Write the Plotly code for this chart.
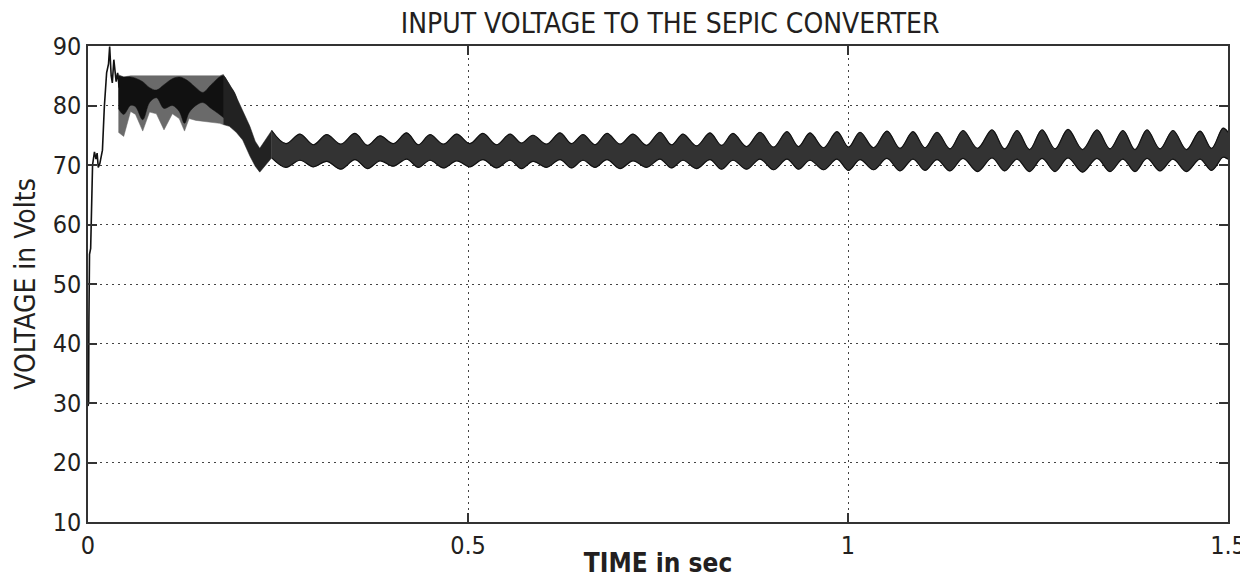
import plotly.graph_objects as go

# ---------------- data ----------------
# initial start-up trace (single line before the switching band forms)
t_start = [0.0, 0.0008, 0.0012, 0.002, 0.0035, 0.0045, 0.006, 0.0085, 0.0105, 0.012,
           0.0135, 0.0155, 0.017, 0.019, 0.0215, 0.0245, 0.027, 0.0285, 0.0305, 0.032,
           0.034, 0.0355, 0.037, 0.039, 0.041]
v_start = [29.5, 30.0, 44.0, 55.0, 56.0, 64.0, 70.0, 72.2, 71.0, 72.0,
           69.6, 70.2, 71.2, 72.5, 79.8, 85.5, 87.0, 89.9, 85.0, 83.8,
           87.7, 86.0, 84.0, 85.5, 83.0]

# transient switching band (0.04 s .. 0.24 s)
t_tr = [0.040, 0.047, 0.056, 0.0625, 0.072, 0.081, 0.090, 0.100, 0.111, 0.120,
        0.127, 0.133, 0.142, 0.151, 0.162, 0.173, 0.178, 0.186, 0.195, 0.2035,
        0.213, 0.220, 0.226, 0.2417]
up_tr = [85.2, 84.8, 85.0, 85.0, 85.0, 85.0, 85.0, 85.0, 85.0, 85.0,
         85.0, 85.0, 85.0, 85.0, 85.0, 85.0, 85.2, 83.6, 81.5, 79.2,
         76.5, 74.0, 72.8, 75.8]
lo_tr = [75.5, 74.8, 79.0, 78.5, 75.7, 78.9, 78.6, 75.9, 78.6, 77.8,
         75.7, 77.8, 77.5, 77.3, 77.2, 77.0, 76.8, 76.5, 75.5, 74.2,
         71.5, 69.8, 68.8, 71.2]
# dense (dark) core of the transient band
t_core = [0.040, 0.047, 0.056, 0.0625, 0.072, 0.081, 0.090, 0.100, 0.111, 0.120,
          0.127, 0.133, 0.142, 0.151, 0.162, 0.173, 0.178, 0.186, 0.195]
up_core = [85.0, 84.8, 84.8, 84.6, 84.0, 83.0, 82.6, 83.5, 84.5, 84.8,
           84.5, 84.0, 83.0, 82.2, 83.5, 84.8, 85.0, 83.5, 81.5]
lo_core = [79.5, 78.5, 80.0, 79.8, 77.6, 80.5, 81.3, 79.5, 80.0, 79.0,
           77.0, 78.8, 80.0, 80.5, 79.5, 78.5, 78.0, 77.0, 76.0]

# steady-state ripple band: envelope at ripple peaks / troughs
t_env = [0.2417, 0.2603, 0.2789, 0.2965, 0.3141, 0.3327, 0.3513, 0.3678, 0.3842, 0.4018,
         0.4193, 0.4347, 0.4500, 0.4676, 0.4851, 0.5024, 0.5197, 0.5375, 0.5553, 0.5704,
         0.5855, 0.6033, 0.6211, 0.6362, 0.6513, 0.6671, 0.6829, 0.7000, 0.7171, 0.7349,
         0.7526, 0.7678, 0.7829, 0.8007, 0.8184, 0.8336, 0.8487, 0.8665, 0.8842, 0.9020,
         0.9197, 0.9349, 0.9500, 0.9678, 0.9855, 1.0007, 1.0158, 1.0336, 1.0513, 1.0684,
         1.0855, 1.1013, 1.1171, 1.1342, 1.1513, 1.1704, 1.1895, 1.2060, 1.2224, 1.2389,
         1.2553, 1.2724, 1.2895, 1.3086, 1.3276, 1.3447, 1.3618, 1.3776, 1.3934, 1.4105,
         1.4276, 1.4454, 1.4632, 1.4783, 1.4934, 1.5]
up_env = [75.8, 73.6, 75.2, 73.4, 75.1, 73.5, 75.3, 73.3, 74.9, 73.6,
          75.4, 73.4, 75.1, 73.5, 75.2, 73.6, 75.3, 73.4, 75.2, 73.7,
          75.0, 73.5, 75.4, 73.6, 75.1, 73.4, 75.3, 73.5, 75.2, 73.3,
          75.5, 73.4, 75.2, 73.2, 75.4, 73.3, 75.3, 73.1, 75.5, 73.0,
          75.6, 73.1, 75.4, 72.9, 75.6, 73.0, 75.5, 72.9, 75.7, 72.8,
          75.6, 72.9, 75.5, 72.7, 75.8, 72.8, 75.9, 72.7, 75.8, 72.6,
          75.9, 72.7, 76.0, 72.6, 75.9, 72.7, 75.8, 72.6, 75.9, 72.7,
          75.8, 72.6, 75.7, 72.8, 76.2, 75.5]
lo_env = [71.2, 69.6, 70.8, 69.7, 70.6, 69.3, 70.9, 69.4, 70.7, 69.8,
          71.0, 69.6, 70.8, 69.5, 70.7, 69.7, 70.9, 69.5, 70.8, 69.4,
          70.6, 69.6, 70.9, 69.5, 70.8, 69.6, 70.9, 69.4, 70.7, 69.6,
          71.0, 69.5, 70.8, 69.4, 70.9, 69.3, 70.8, 69.3, 71.0, 69.2,
          71.0, 69.3, 70.8, 69.2, 71.0, 69.1, 70.9, 69.2, 71.1, 69.0,
          71.0, 69.1, 70.9, 69.0, 71.1, 68.9, 71.2, 69.0, 71.0, 68.9,
          71.1, 68.9, 71.2, 68.8, 71.1, 68.9, 71.0, 68.9, 71.1, 69.0,
          71.0, 68.9, 71.0, 69.1, 71.3, 71.0]

x_ticks = [0, 0.5, 1, 1.5]
x_ticktext = ["0", "0.5", "1", "1.5"]
y_ticks = [10, 20, 30, 40, 50, 60, 70, 80, 90]

TXT = "#231f20"
FONT = "DejaVu Sans Condensed, Liberation Sans, Arial, sans-serif"


def band(t, up, lo, color, shape="linear"):
    return go.Scatter(x=list(t) + list(t)[::-1], y=list(up) + list(lo)[::-1],
                      mode="lines", fill="toself", fillcolor=color,
                      line=dict(color=color, width=0.5, shape=shape),
                      hoverinfo="skip", showlegend=False)


fig = go.Figure()
fig.add_trace(band(t_tr[:17], up_tr[:17], lo_tr[:17], "#6a6a6a"))
fig.add_trace(band(t_core, up_core, lo_core, "#111111", "spline"))
fig.add_trace(band(t_tr[16:], up_tr[16:], lo_tr[16:], "#222222"))
fig.add_trace(band(t_env, up_env, lo_env, "#333333", "spline"))
for tt, yy in [(t_env, up_env), (t_env, lo_env)]:
    fig.add_trace(go.Scatter(x=tt, y=yy, mode="lines",
                             line=dict(color="#111111", width=1.2, shape="spline"),
                             showlegend=False, hoverinfo="skip"))
fig.add_trace(go.Scatter(x=t_start, y=v_start, mode="lines",
                         line=dict(color="#111111", width=1.6),
                         showlegend=False))

axis_common = dict(showline=True, linecolor="#333333", linewidth=1.5, mirror="ticks",
                   ticks="inside", ticklen=9, tickcolor="#333333", tickwidth=1.5,
                   showgrid=True, gridcolor="#444444", griddash="2px,4px", gridwidth=1,
                   zeroline=False, automargin=False, ticklabeloverflow="allow",
                   tickfont=dict(family=FONT, size=25, color=TXT))

# the page adds an 8 px body margin, so the figure is 8 px smaller each way
fig.update_layout(
    width=1240, height=570,
    margin=dict(l=80, r=20, t=38, b=56),
    paper_bgcolor="white", plot_bgcolor="white",
    title=dict(text="INPUT VOLTAGE TO THE SEPIC CONVERTER", x=0.534, xanchor="center",
               y=0.99, yanchor="top", pad=dict(t=0, b=0),
               font=dict(family=FONT, size=28, color=TXT)),
    xaxis=dict(range=[0, 1.5], tickvals=x_ticks, ticktext=x_ticktext,
               title=dict(text="<b>TIME in sec</b>", standoff=2,
                          font=dict(family=FONT, size=26, color=TXT)),
               **axis_common),
    yaxis=dict(range=[10, 90], tickvals=y_ticks,
               title=dict(text="VOLTAGE in Volts", standoff=9,
                          font=dict(family=FONT, size=28, color=TXT)),
               **axis_common),
)

fig.write_html("out.html")
